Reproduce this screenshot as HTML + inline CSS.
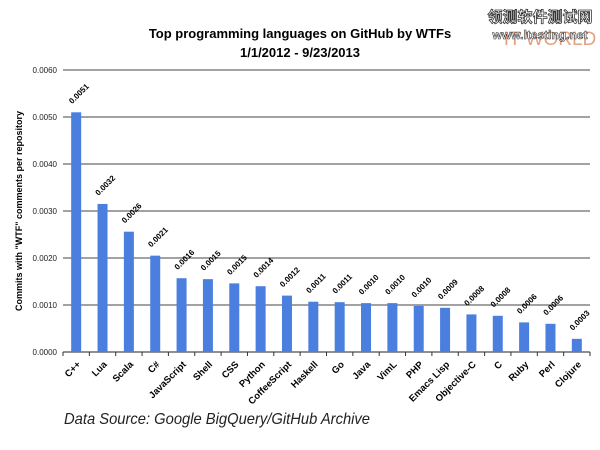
<!DOCTYPE html>
<html><head><meta charset="utf-8"><style>
body{margin:0;background:#fff;width:600px;height:450px;overflow:hidden}
svg{display:block;font-family:"Liberation Sans",sans-serif}
</style></head><body>
<svg id="c" width="600" height="450">
<text x="300" y="38" text-anchor="middle" font-size="13" font-weight="bold">Top programming languages on GitHub by WTFs</text>
<text x="300" y="57" text-anchor="middle" font-size="13" font-weight="bold">1/1/2012 - 9/23/2013</text>
<g>
<text x="540" y="22" text-anchor="middle" font-size="15" font-weight="bold" fill="#fff" stroke="#333" stroke-width="0.8" font-family="'Liberation Sans','Noto Sans CJK SC',sans-serif">领测软件测试网</text>
<text x="550" y="45" text-anchor="middle" font-size="19" fill="#e8a080">IT WORLD</text>
<text x="540" y="39" text-anchor="middle" font-size="12" font-weight="bold" fill="#fff" stroke="#333" stroke-width="0.6">www.ltesting.net</text>
</g>
<text transform="translate(22,211) rotate(-90)" text-anchor="middle" font-size="9" font-weight="bold">Commits with "WTF" comments per repository</text>
<text x="64" y="424" font-size="16" font-style="italic" fill="#222" textLength="306" lengthAdjust="spacingAndGlyphs">Data Source: Google BigQuery/GitHub Archive</text>
<g id="grid"></g><g id="bars"></g>
</svg>
<script>
const categories=["C++","Lua","Scala","C#","JavaScript","Shell","CSS","Python","CoffeeScript","Haskell","Go","Java","VimL","PHP","Emacs Lisp","Objective-C","C","Ruby","Perl","Clojure"];
const values=[0.0051,0.00315,0.00256,0.00205,0.00157,0.00155,0.00146,0.0014,0.0012,0.00107,0.00106,0.00104,0.00104,0.00098,0.00094,0.0008,0.00077,0.00063,0.0006,0.00028];
const valueLabels=["0.0051","0.0032","0.0026","0.0021","0.0016","0.0015","0.0015","0.0014","0.0012","0.0011","0.0011","0.0010","0.0010","0.0010","0.0009","0.0008","0.0008","0.0006","0.0006","0.0003"];
const yTicks=[0,0.001,0.002,0.003,0.004,0.005,0.006];
const yTickLabels=["0.0000","0.0010","0.0020","0.0030","0.0040","0.0050","0.0060"];
</script>
<script>
const NS="http://www.w3.org/2000/svg";
const n=categories.length;
const x0=63,x1=590,y0=352,y1=70;
const band=(x1-x0)/n;
const xc=i=>x0+band*(i+0.5);
const y=v=>y0-(v/0.006)*(y0-y1);
function mk(t,a,p){const e=document.createElementNS(NS,t);for(const k in a)e.setAttribute(k,a[k]);p.appendChild(e);return e;}
const g=document.getElementById('grid'),b=document.getElementById('bars');
yTicks.forEach((v,i)=>{
 const l=mk('line',{x1:x0,x2:x1,y1:y(v),y2:y(v),stroke:i==0?'#222':'#444','stroke-width':1},g);
 
 
 const t=mk('text',{x:x0-6,y:y(v)+3,'text-anchor':'end','font-size':8,fill:'#222'},g);
 t.textContent=yTickLabels[i];
 
 
});
for(let i=0;i<=n;i++){const l=mk('line',{x1:x0+band*i,x2:x0+band*i,y1:y0,y2:y0+4,stroke:'#333'},g);
 
 }
categories.forEach((c,i)=>{
 const v=values[i];
 const r=mk('rect',{x:xc(i)-5,y:y(v),width:10,height:y0-y(v),fill:'#4a7fe0'},b);
 
 
 const t=mk('text',{transform:`translate(${xc(i)-4},${y(v)-8}) rotate(-45)`,'font-size':8,'font-weight':'bold'},b);
 t.textContent=valueLabels[i];
 
 
 const k=mk('text',{transform:`translate(${xc(i)+5},${y0+13}) rotate(-45)`,'text-anchor':'end','font-size':9.5,'font-weight':'bold'},b);
 k.textContent=c;
 
 
});
</script>
</body></html>
